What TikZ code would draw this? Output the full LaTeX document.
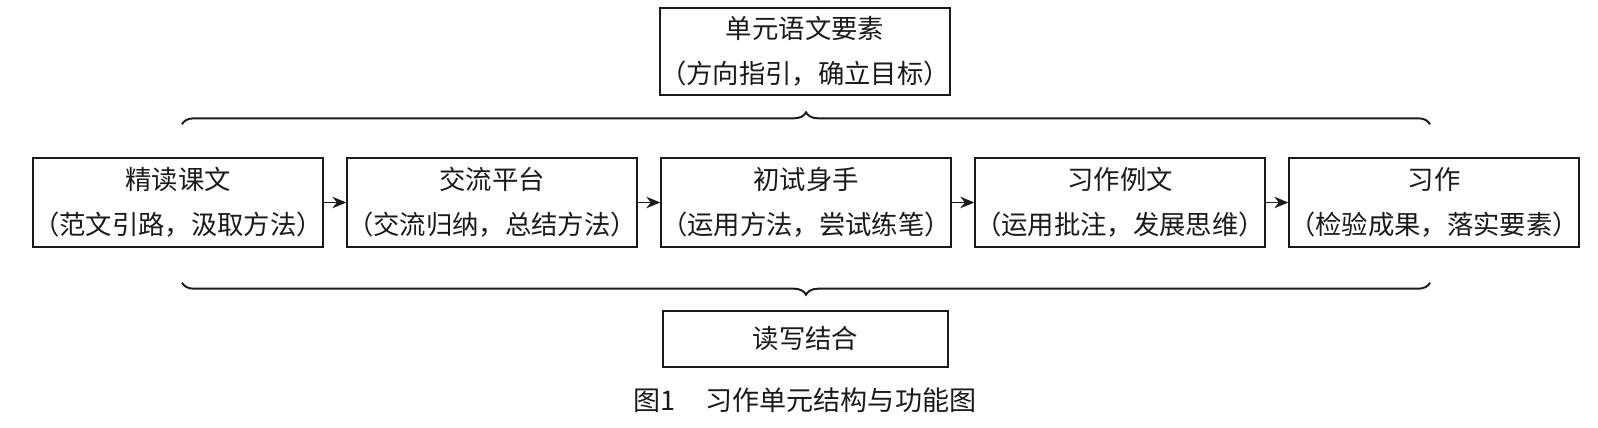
\documentclass[tikz,border=0pt]{standalone}
\usepackage{fontspec}
\setmainfont{Noto Sans CJK SC}
\usetikzlibrary{arrows.meta,positioning,calc,decorations.pathreplacing}
\definecolor{ink}{HTML}{1A1A1A}
\tikzset{unitbox/.style={draw=ink,line width=0.8pt,align=center,text=ink,
 font=\fontsize{15}{25.5}\selectfont,inner sep=0pt,minimum width=5.76cm,minimum height=1.78cm},
 flowarrow/.style={-{Stealth[length=2.8mm,width=2.3mm]},draw=ink,line width=0.8pt},
 unitbrace/.style={decorate,decoration={brace,amplitude=2.4mm},draw=ink,line width=1.1pt}}
\begin{document}
\begin{tikzpicture}[x=1cm,y=1cm]
\useasboundingbox (0,0) rectangle (31.96,-8.54);
\node[unitbox,minimum height=1.74cm] (goal) at (16.10,-1.03) {单元语文要素\\（方向指引，确立目标）};
\node[unitbox] (read) at (3.56,-4.05) {精读课文\\（范文引路，汲取方法）};
\node[unitbox] (share) at (9.84,-4.05) {交流平台\\（交流归纳，总结方法）};
\node[unitbox] (try) at (16.12,-4.05) {初试身手\\（运用方法，尝试练笔）};
\node[unitbox] (model) at (22.40,-4.05) {习作例文\\（运用批注，发展思维）};
\node[unitbox] (task) at (28.68,-4.05) {习作\\（检验成果，落实要素）};
\node[unitbox,minimum width=5.7cm,minimum height=1.12cm] (link) at (16.11,-6.78) {读写结合};
\node[text=ink,font=\fontsize{15.4}{18}\selectfont] (cap) at (16.1,-8.0) {图1\hspace{1.1em}习作单元结构与功能图};
\draw[flowarrow] (read)--(share);\draw[flowarrow] (share)--(try);
\draw[flowarrow] (try)--(model);\draw[flowarrow] (model)--(task);
\draw[unitbrace] ($(read.north)+(0.08,0.66)$)--($(task.north)+(-0.08,0.66)$);
\draw[unitbrace] ($(task.south)+(-0.08,-0.70)$)--($(read.south)+(0.08,-0.70)$);
\end{tikzpicture}
\end{document}
